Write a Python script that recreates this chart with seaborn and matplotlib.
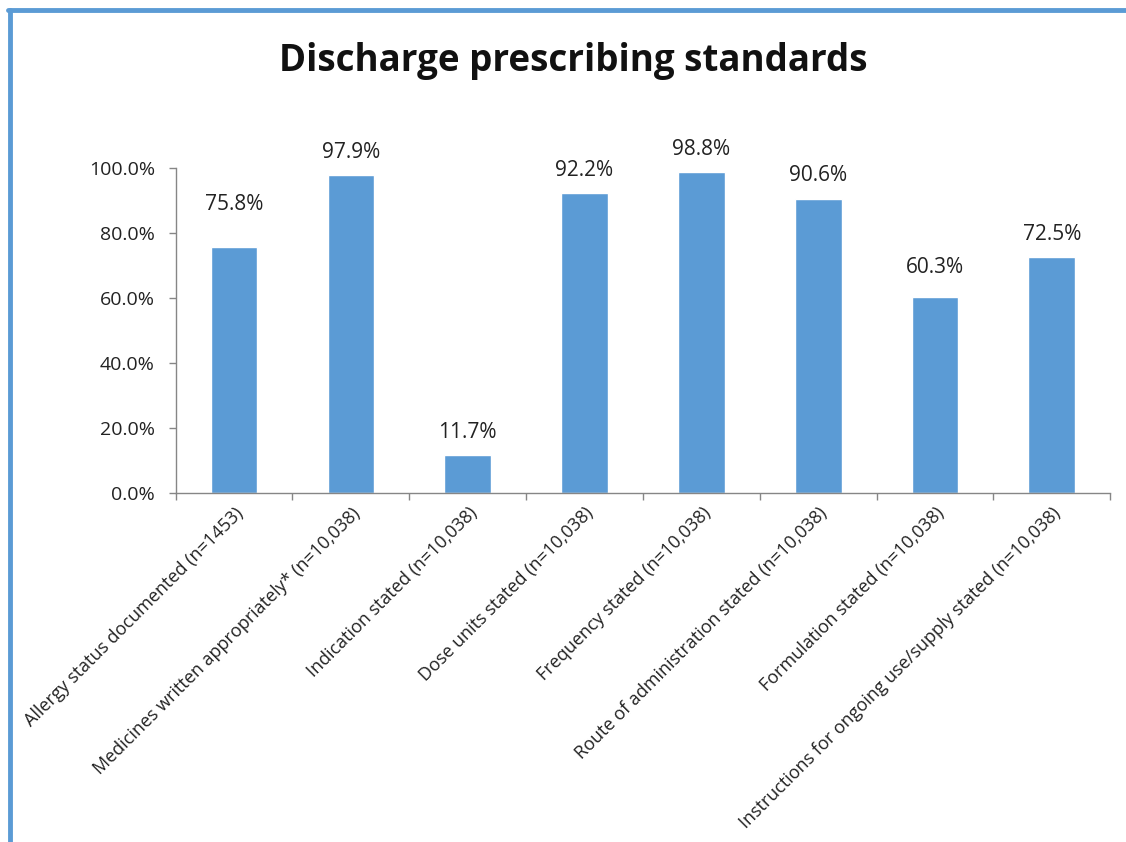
import numpy as np
import pandas as pd
import matplotlib
matplotlib.use("Agg")
import matplotlib.pyplot as plt
from matplotlib.lines import Line2D
from matplotlib.ticker import FuncFormatter, FixedLocator
import seaborn as sns

# ── Data ──────────────────────────────────────────────────────────────────────
categories = [
    "Allergy status documented (n=1453)",
    "Medicines written appropriately* (n=10,038)",
    "Indication stated (n=10,038)",
    "Dose units stated (n=10,038)",
    "Frequency stated (n=10,038)",
    "Route of administration stated (n=10,038)",
    "Formulation stated (n=10,038)",
    "Instructions for ongoing use/supply stated (n=10,038)",
]
percent = [75.8, 97.9, 11.7, 92.2, 98.8, 90.6, 60.3, 72.5]
y_ticks = [0, 20, 40, 60, 80, 100]

# ── Style / layout ────────────────────────────────────────────────────────────
BAR_COLOR = "#5B9BD5"
FRAME_COLOR = "#5B9BD5"
AXIS_GREY = "#868686"
TEXT_COLOR = "#222222"
# gap (in % units) between bar top and its label centre, as placed in the slide
LABEL_GAP = [13.0, 7.0, 7.0, 7.0, 7.0, 7.0, 9.0, 7.0]

sns.set_theme(style="white")
plt.rcParams["font.family"] = ["Open Sans", "DejaVu Sans"]

df = pd.DataFrame({"category": categories, "percent": percent})

fig = plt.figure(figsize=(11.26, 8.42), dpi=100)
ax = fig.add_axes([0.156, 0.4145, 0.830, 0.386])

sns.barplot(data=df, x="category", y="percent", color=BAR_COLOR,
            width=0.4, saturation=1, ax=ax)

# data labels
for i, (v, gap) in enumerate(zip(percent, LABEL_GAP)):
    ax.text(i, v + gap, f"{v:.1f}%", ha="center", va="center",
            fontsize=15, color=TEXT_COLOR, clip_on=False)

ax.set_ylim(0, 100)
ax.set_xlim(-0.5, len(categories) - 0.5)
ax.set_yticks(y_ticks)
ax.yaxis.set_major_formatter(FuncFormatter(lambda v, _: f"{v:.1f}%"))
ax.set_xlabel("")
ax.set_ylabel("")

# x ticks: labels at centres, tick marks at category boundaries
ax.set_xticks(range(len(categories)))
ax.set_xticklabels(categories, rotation=45, ha="right", rotation_mode="anchor",
                   fontsize=13, color=TEXT_COLOR)
ax.xaxis.set_minor_locator(FixedLocator(np.arange(-0.5, len(categories), 1.0)))
ax.tick_params(axis="x", which="major", length=0, pad=8)
ax.tick_params(axis="x", which="minor", length=5, width=1, color=AXIS_GREY,
               direction="out", bottom=True)
ax.tick_params(axis="y", which="major", length=5, width=1, color=AXIS_GREY,
               direction="out", left=True, labelsize=14, labelcolor=TEXT_COLOR, pad=10)

for s in ["top", "right"]:
    ax.spines[s].set_visible(False)
for s in ["left", "bottom"]:
    ax.spines[s].set_color(AXIS_GREY)
    ax.spines[s].set_linewidth(1)

fig.text(0.509, 0.927, "Discharge prescribing standards", ha="center",
         va="center", fontsize=26.5, fontweight="bold", color="#111111")

# slide frame: blue line along left and top edges
fig.add_artist(Line2D([9.5 / 1126, 9.5 / 1126], [0, 1 - 10 / 842],
                      transform=fig.transFigure, color=FRAME_COLOR, lw=3.5))
fig.add_artist(Line2D([8 / 1126, 1], [1 - 10 / 842, 1 - 10 / 842],
                      transform=fig.transFigure, color=FRAME_COLOR, lw=3.5))

fig.savefig("out.png", dpi=100)
